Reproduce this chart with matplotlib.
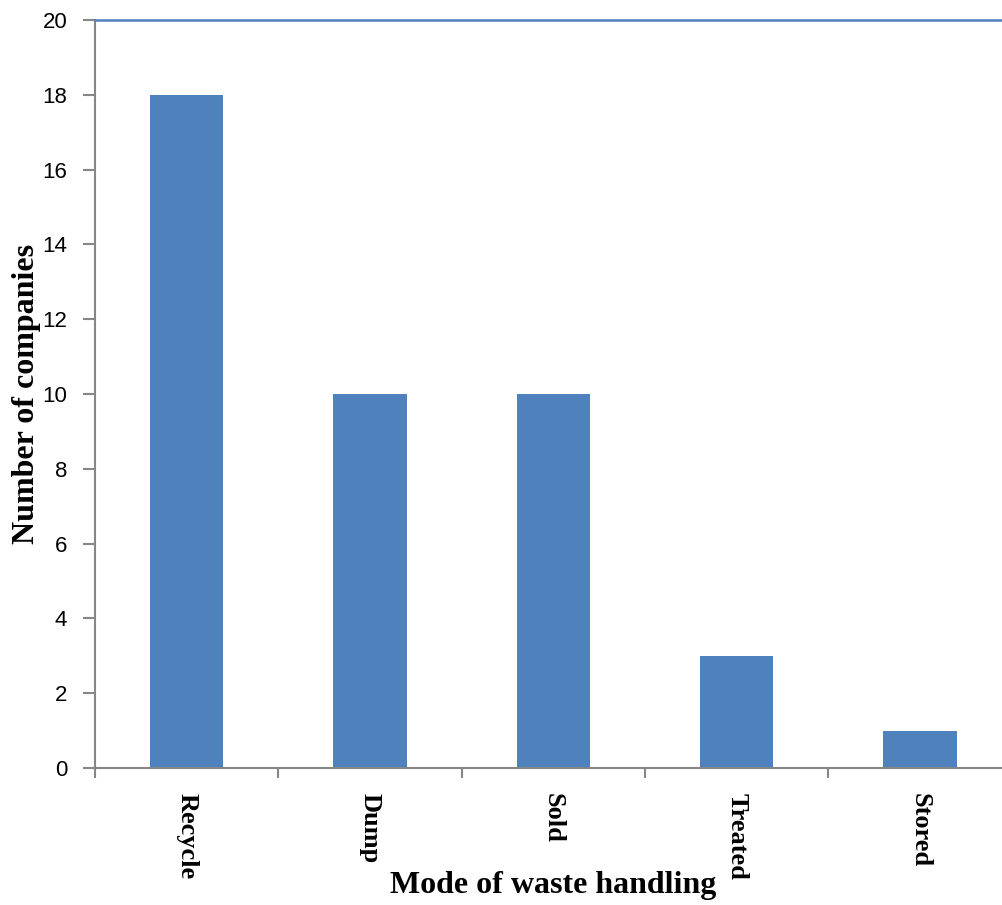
import numpy as np
import matplotlib.pyplot as plt

modes = ['Recycle', 'Dump', 'Sold', 'Treated', 'Stored']
companies = [18, 10, 10, 3, 1]
yticks = [0, 2, 4, 6, 8, 10, 12, 14, 16, 18, 20]

bar_color = '#4F81BD'
axis_gray = '#868686'

fig = plt.figure(figsize=(10.02, 9.05), dpi=100)
ax = fig.add_axes([0.0948, 0.1514, 0.915, 0.8265])

x = np.arange(len(modes))
ax.bar(x, companies, width=0.4, color=bar_color, zorder=2)

ax.set_xlim(-0.5, len(modes) - 0.5)
ax.set_ylim(0, 20)
ax.set_yticks(yticks)
ax.set_yticklabels([str(v) for v in yticks], fontsize=16, family='Liberation Sans')

# category labels at centres, tick marks at the boundaries
ax.set_xticks(x)
ax.set_xticklabels(modes, rotation=270, fontsize=19, fontweight='bold',
                   family='Liberation Serif', va='top', ha='center')
ax.set_xticks(np.arange(len(modes) + 1) - 0.5, minor=True)
ax.tick_params(axis='x', which='major', length=0, pad=18)
ax.tick_params(axis='x', which='minor', length=7, width=1.5, color=axis_gray, direction='out')
ax.tick_params(axis='y', length=9, width=1.5, color=axis_gray, direction='out', pad=11)

for side in ['left', 'bottom']:
    ax.spines[side].set_color(axis_gray)
    ax.spines[side].set_linewidth(1.5)
ax.spines['right'].set_visible(False)
ax.spines['top'].set_color(bar_color)
ax.spines['top'].set_linewidth(1.8)

ax.set_ylabel('Number of companies', fontsize=23, fontweight='bold', family='Liberation Serif')
ax.yaxis.label.set_va('center')
ax.yaxis.set_label_coords(-0.075, 0.5)
ax.set_xlabel('Mode of waste handling', fontsize=23, fontweight='bold', family='Liberation Serif')
ax.xaxis.label.set_va('center')
ax.xaxis.set_label_coords(0.5, -0.157)

fig.savefig('out.png', dpi=100)
